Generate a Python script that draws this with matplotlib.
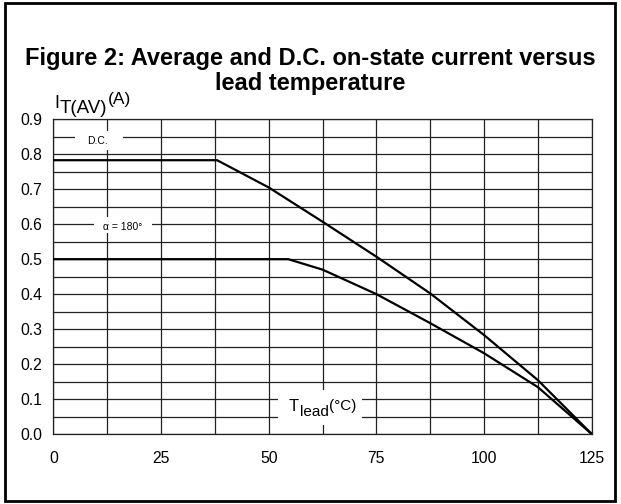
import numpy as np
import matplotlib
matplotlib.use("Agg")
import matplotlib.pyplot as plt
from matplotlib.patches import Rectangle

plt.rcParams['font.family'] = ['Liberation Sans', 'DejaVu Sans']

# curve readings (lead temperature in degC, current in A)
t_dc = [0, 38, 50, 62.5, 75, 87.5, 100, 112.5, 125]
i_dc = [0.783, 0.783, 0.705, 0.607, 0.507, 0.402, 0.283, 0.154, 0.0]

t_180 = [0, 54.5, 62.5, 75, 87.5, 100, 112.5, 125]
i_180 = [0.5, 0.5, 0.470, 0.400, 0.317, 0.231, 0.134, 0.0]

x_ticks = [0, 25, 50, 75, 100, 125]
y_ticks = [0.0, 0.1, 0.2, 0.3, 0.4, 0.5, 0.6, 0.7, 0.8, 0.9]

W, H = 621, 504
fig = plt.figure(figsize=(W / 100, H / 100), dpi=100)
ax = fig.add_axes([53.5 / W, 1 - 434 / H, (591.7 - 53.5) / W, (434 - 119.3) / H])

# outer frame
fig.patches.append(Rectangle((5 / W, 3 / H), 610 / W, 498 / H, transform=fig.transFigure,
                             fill=False, edgecolor='black', linewidth=2))

# grid
for gx in np.arange(0, 125.1, 12.5):
    ax.axvline(gx, color='#222222', linewidth=0.9, zorder=1)
for gy in np.arange(0, 0.901, 0.05):
    ax.axhline(gy, color='#222222', linewidth=0.9, zorder=1)

ax.plot(t_dc, i_dc, color='black', linewidth=1.6, zorder=4)
ax.plot(t_180, i_180, color='black', linewidth=1.6, zorder=4)

ax.set_xlim(0, 125)
ax.set_ylim(0, 0.9)
ax.set_xticks(x_ticks)
ax.set_yticks(y_ticks)
ax.set_yticklabels([f"{v:.1f}" for v in y_ticks])
ax.tick_params(length=0, labelsize=11.3)
ax.tick_params(axis='x', pad=12)
ax.tick_params(axis='y', pad=8)
for s in ax.spines.values():
    s.set_color('#222222')
    s.set_linewidth(0.9)


def white_box(x0, x1, y0, y1):
    ax.add_patch(Rectangle((x0, y0), x1 - x0, y1 - y0, facecolor='white',
                           edgecolor='none', zorder=2))


white_box(5.0, 16.1, 0.812, 0.866)
ax.text(10.3, 0.839, "D.C.", fontsize=7.5, ha='center', va='center', zorder=3)

white_box(9.4, 22.9, 0.575, 0.621)
ax.text(16.1, 0.592, "α = 180°", fontsize=7.5, ha='center', va='center', zorder=3)

white_box(52.1, 71.6, 0.026, 0.126)

renderer = fig.canvas.get_renderer()


def chain(x_px, parts):
    # parts: (text, fontsize, baseline_px); each piece starts where the last one ends
    for txt, size, base in parts:
        t = fig.text(x_px / W, 1 - base / H, txt, fontsize=size, ha='left', va='baseline')
        x_px = t.get_window_extent(renderer).x1 + 0.5


chain(289, [("T", 12, 411), ("lead", 11, 416), ("(°C)", 11, 410)])
chain(54.5, [("I", 13, 108), ("T(AV)", 13.5, 113), ("(A)", 12.5, 104)])

# title
fig.text(0.5, 1 - 65 / H, "Figure 2: Average and D.C. on-state current versus",
         fontsize=17, fontweight='bold', ha='center', va='baseline')
fig.text(0.5, 1 - 90 / H, "lead temperature",
         fontsize=17, fontweight='bold', ha='center', va='baseline')

fig.savefig("out.png", dpi=100)
